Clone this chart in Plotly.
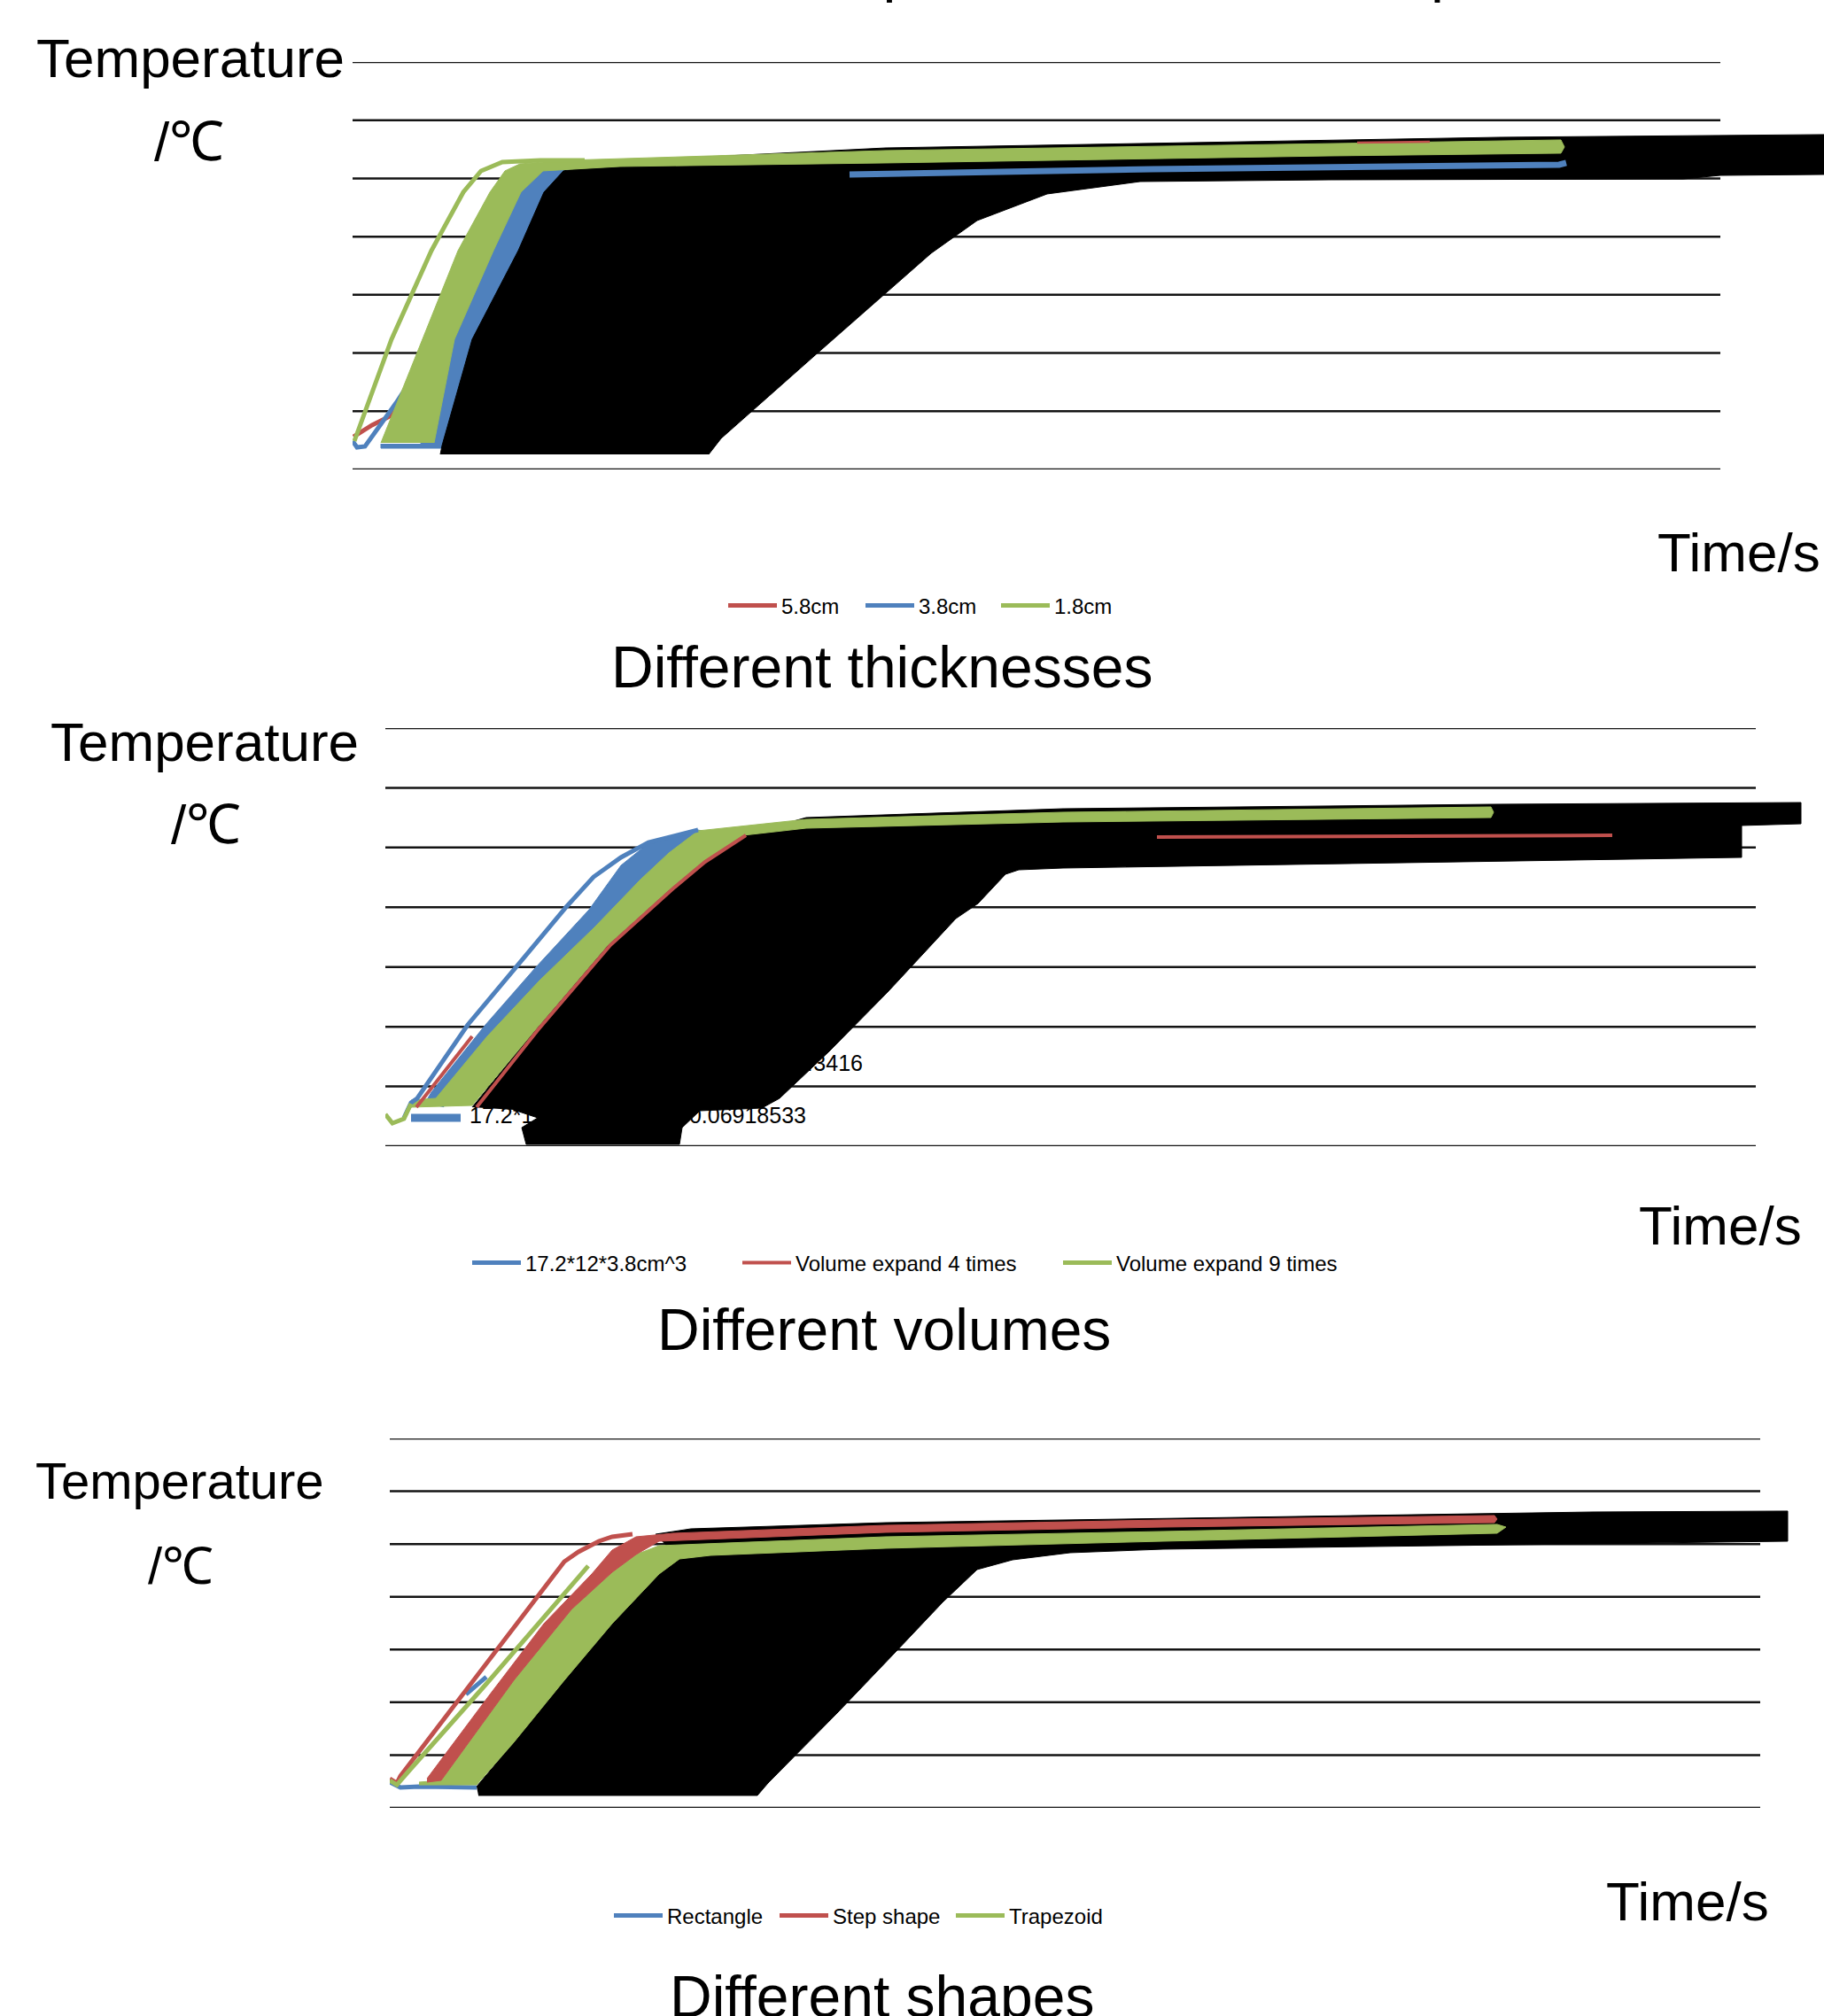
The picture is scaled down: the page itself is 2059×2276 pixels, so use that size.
import plotly.graph_objects as go

W, H = 2059, 2276
FONT = "Liberation Sans, Arial, sans-serif"
RED, BLUE, GREEN, BLACK = "#C0504D", "#4F81BD", "#9BBB59", "#000000"

grid_T = [0, 10, 20, 30, 40, 50, 60, 70]

# ---------------- Panel 1 : Different thicknesses ----------------
p1_names = ["5.8cm", "3.8cm", "1.8cm"]
p1_grid_end = 1544
p1_t_max = 1661
p1_green_line_t = [2, 44, 89, 125, 145, 169, 212, 262]
p1_green_line_T = [4.87, 22.37, 37.59, 47.63, 51.29, 52.81, 53.11, 53.11]
p1_green_band_t = [32, 79, 119, 155, 172, 189, 242, 602, 1102, 1364, 1368, 1364, 1102, 602, 302, 262, 215, 190, 159, 115, 92]
p1_green_band_T = [4.57, 22.37, 37.59, 47.63, 51.29, 52.50, 53.11, 54.79, 56.00, 56.61, 55.40, 54.33, 53.87, 52.66, 52.05, 51.74, 51.29, 47.63, 37.59, 22.37, 4.57]
p1_blue_line_t = [0, 5, 14, 49, 72]
p1_blue_line_T = [4.87, 3.80, 3.96, 11.41, 16.74]
p1_blue_band_t = [32, 32, 162, 282, 312, 242, 202, 162, 122, 92, 77]
p1_blue_band_T = [4.41, 3.65, 3.65, 45.66, 49.46, 52.05, 51.74, 44.13, 30.44, 16.74, 4.41]
p1_blue_plateau_t = [561, 902, 1362, 1370]
p1_blue_plateau_T = [50.68, 51.59, 52.35, 52.66]
p1_red_rise_t = [1, 22, 42, 60]
p1_red_rise_T = [5.63, 7.61, 9.13, 11.87]
p1_red_plateau_t = [1134, 1216]
p1_red_plateau_T = [56.16, 56.31]
p1_labels_t = [99, 101, 135, 187, 216, 238, 302, 602, 1296, 1661, 1661, 1544, 1502, 1102, 889, 784, 705, 653, 521, 416, 402]
p1_labels_T = [2.59, 4.11, 22.37, 37.59, 47.63, 51.29, 52.96, 55.24, 57.07, 57.53, 50.68, 50.52, 49.91, 49.76, 49.46, 47.33, 42.76, 37.13, 19.48, 5.33, 2.59]

# ---------------- Panel 2 : Different volumes ----------------
p2_names = ["17.2*12*3.8cm^3", "Volume expand 4 times", "Volume expand 9 times"]
p2_grid_end = 1547
p2_t_max = 1624
p2_blue_line_t = [21, 29, 36, 93, 149, 205, 235, 266, 297, 353]
p2_blue_line_T = [4.75, 7.27, 8.01, 20.32, 30.25, 40.19, 45.08, 48.35, 50.87, 52.94]
p2_green_line_t = [0, 8, 21, 29]
p2_green_line_T = [5.34, 3.86, 4.60, 7.12]
p2_blue_band_t = [45, 52, 113, 169, 230, 266, 297, 353, 385, 265, 125, 65]
p2_blue_band_T = [7.27, 9.05, 20.32, 29.81, 39.60, 47.01, 50.72, 52.94, 51.76, 36.19, 13.94, 6.53]
p2_green_band_t = [29, 57, 115, 174, 236, 288, 320, 353, 475, 765, 1248, 1251, 1248, 765, 475, 404, 358, 322, 251, 169, 98, 29]
p2_green_band_T = [7.71, 8.01, 18.39, 27.73, 36.63, 44.64, 49.09, 52.80, 54.72, 55.91, 56.80, 55.91, 55.02, 54.28, 53.24, 52.05, 47.61, 43.16, 33.66, 19.43, 6.82, 6.53]
p2_red_line_t = [35, 98, None, 103, 172, 254, 325, 361, 407, None, 871, 1385]
p2_red_line_T = [6.53, 18.39, None, 6.53, 19.43, 33.66, 43.16, 47.61, 52.05, None, 51.76, 52.05]
p2_key_t = [29, 85]
p2_key_T = [4.75, 4.75]
p2_labels_t = [98, 169, 251, 322, 358, 404, 475, 765, 1248, 1598, 1598, 1531, 1531, 765, 715, 700, 669, 644, 567, 501, 445, 425, 355, 335, 332, 159, 154, 172, 145]
p2_labels_T = [6.53, 19.43, 33.66, 43.16, 47.61, 52.05, 55.02, 56.50, 57.24, 57.54, 53.98, 53.69, 48.35, 46.57, 46.27, 45.53, 40.63, 38.11, 25.80, 15.87, 8.01, 6.38, 5.93, 3.11, 0.30, 0.30, 3.11, 4.75, 6.08]
p2_text = ["17.2*12*3.8cm^3", "0.06918533", "43416"]
p2_text_t = [95, 475, 539]
p2_text_T = [4.75, 4.75, 13.50]
p2_text_pos = ["middle right", "middle left", "middle left"]

# ---------------- Panel 3 : Different shapes ----------------
p3_names = ["Rectangle", "Step shape", "Trapezoid"]
p3_grid_end = 1547
p3_t_max = 1619
p3_red_line_t = [0, 8, 12, 197, 213, 236, 251, 274]
p3_red_line_T = [5.54, 4.70, 6.04, 46.67, 48.51, 50.53, 51.37, 51.87]
p3_green_line_t = [0, 8, 21, 109, 224]
p3_green_line_T = [5.20, 4.36, 6.88, 23.50, 45.83]
p3_blue_line_t = [0, 12, 33, 98, None, 86, 109]
p3_blue_line_T = [4.87, 3.86, 4.03, 3.86, None, 21.49, 24.84]
p3_red_band_t = [42, 113, 174, 228, 251, 278, 320, 560, 873, 1247, 1250, 1247, 873, 560, 304, 278, 251, 205, 140, 58, 42]
p3_red_band_T = [5.54, 21.49, 34.92, 44.32, 48.85, 51.37, 52.04, 53.55, 54.56, 55.40, 54.73, 54.05, 53.21, 52.21, 50.53, 48.01, 44.65, 37.60, 24.17, 5.20, 4.87]
p3_green_band_t = [33, 58, 140, 205, 251, 278, 304, 560, 873, 1250, 1260, 1250, 873, 560, 362, 327, 304, 251, 197, 140, 98, 33]
p3_green_band_T = [4.87, 5.20, 24.17, 37.60, 44.65, 48.01, 49.69, 51.37, 52.38, 53.72, 53.21, 52.04, 50.53, 49.19, 47.84, 47.17, 44.32, 34.92, 24.17, 12.42, 4.36, 4.36]
p3_labels_t = [98, 140, 197, 251, 304, 327, 300, 340, 560, 1228, 1359, 1578, 1578, 1267, 1005, 873, 768, 703, 663, 624, 571, 505, 427, 415, 100]
p3_labels_T = [4.03, 12.42, 24.17, 34.92, 44.32, 47.17, 51.87, 52.88, 54.05, 55.73, 56.07, 56.24, 50.53, 49.86, 49.35, 49.02, 48.35, 47.00, 45.16, 38.95, 29.55, 17.96, 4.70, 2.35, 2.35]

captions = ["Different positions of the heat plate", "Different thicknesses", "Different volumes", "Different shapes"]


def px(x):
    return x / W


def py(y):
    return 1 - y / H


fig = go.Figure()


def band(t, T, color, xa, ya):
    fig.add_trace(go.Scatter(x=t, y=T, mode="lines", fill="toself", fillcolor=color,
                             line=dict(color=color, width=1), hoverinfo="skip",
                             showlegend=False, xaxis=xa, yaxis=ya))


def line(t, T, color, width, xa, ya, name=None, legend=None, rank=None, lw=None):
    if name is not None:
        kw = dict(name=name, showlegend=True, legend=legend, legendrank=rank)
        if lw is not None:
            kw["legendwidth"] = lw
    else:
        kw = dict(showlegend=False)
    fig.add_trace(go.Scatter(x=t, y=T, mode="lines", line=dict(color=color, width=width),
                             connectgaps=False, hoverinfo="skip", xaxis=xa, yaxis=ya, **kw))


# Panel 1
band(p1_blue_band_t, p1_blue_band_T, BLUE, "x", "y")
line(p1_red_rise_t, p1_red_rise_T, RED, 5, "x", "y", p1_names[0], "legend", 1, 85)
line(p1_blue_line_t, p1_blue_line_T, BLUE, 5, "x", "y", p1_names[1], "legend", 2, 83)
band(p1_labels_t, p1_labels_T, BLACK, "x", "y")
band(p1_green_band_t, p1_green_band_T, GREEN, "x", "y")
line(p1_blue_plateau_t, p1_blue_plateau_T, BLUE, 7, "x", "y")
line(p1_red_plateau_t, p1_red_plateau_T, RED, 2.5, "x", "y")
line(p1_green_line_t, p1_green_line_T, GREEN, 5, "x", "y", p1_names[2], "legend", 3)

# Panel 2
band(p2_blue_band_t, p2_blue_band_T, BLUE, "x2", "y2")
band(p2_labels_t, p2_labels_T, BLACK, "x2", "y2")
band(p2_green_band_t, p2_green_band_T, GREEN, "x2", "y2")
line(p2_key_t, p2_key_T, BLUE, 9, "x2", "y2")
line(p2_blue_line_t, p2_blue_line_T, BLUE, 5, "x2", "y2", p2_names[0], "legend2", 1, 235)
line(p2_red_line_t, p2_red_line_T, RED, 4, "x2", "y2", p2_names[1], "legend2", 2, 292)
line(p2_green_line_t, p2_green_line_T, GREEN, 5, "x2", "y2", p2_names[2], "legend2", 3)
fig.add_trace(go.Scatter(x=p2_text_t, y=p2_text_T, mode="text", text=p2_text,
                         textposition=p2_text_pos, textfont=dict(family=FONT, size=25, color="black"),
                         hoverinfo="skip", showlegend=False, xaxis="x2", yaxis="y2"))

# Panel 3
band(p3_labels_t, p3_labels_T, BLACK, "x3", "y3")
line(p3_blue_line_t, p3_blue_line_T, BLUE, 5, "x3", "y3", p3_names[0], "legend3", 1, 117)
band(p3_green_band_t, p3_green_band_T, GREEN, "x3", "y3")
band(p3_red_band_t, p3_red_band_T, RED, "x3", "y3")
line(p3_red_line_t, p3_red_line_T, RED, 5, "x3", "y3", p3_names[1], "legend3", 2, 129)
line(p3_green_line_t, p3_green_line_T, GREEN, 5, "x3", "y3", p3_names[2], "legend3", 3)

# gridlines
shapes = []
for xr, yr, end in (("x", "y", p1_grid_end), ("x2", "y2", p2_grid_end), ("x3", "y3", p3_grid_end)):
    for g in grid_T:
        shapes.append(dict(type="line", xref=xr, yref=yr, x0=0, x1=end, y0=g, y1=g,
                           line=dict(color="#141414", width=2.5), layer="below"))

ax = dict(visible=False, showgrid=False, zeroline=False, fixedrange=True)
fig.update_layout(
    width=W, height=H, margin=dict(l=0, r=0, t=0, b=0),
    paper_bgcolor="white", plot_bgcolor="rgba(0,0,0,0)",
    font=dict(family=FONT, color="black"),
    xaxis=dict(ax, domain=[px(398), 1], range=[0, p1_t_max], anchor="y"),
    yaxis=dict(ax, domain=[py(530), py(70)], range=[0, 70], anchor="x"),
    xaxis2=dict(ax, domain=[px(435), 1], range=[0, p2_t_max], anchor="y2"),
    yaxis2=dict(ax, domain=[py(1294), py(822)], range=[0, 70], anchor="x2"),
    xaxis3=dict(ax, domain=[px(440), 1], range=[0, p3_t_max], anchor="y3"),
    yaxis3=dict(ax, domain=[py(2041), py(1624)], range=[0, 70], anchor="x3"),
    shapes=shapes,
    showlegend=True,
)

leg = dict(orientation="h", xanchor="left", yanchor="middle", bgcolor="rgba(0,0,0,0)",
           font=dict(family=FONT, size=24, color="black"), borderwidth=0, itemclick=False,
           itemwidth=55)
fig.update_layout(
    legend=dict(leg, x=px(817), y=py(684)),
    legend2=dict(leg, x=px(528), y=py(1426)),
    legend3=dict(leg, x=px(688), y=py(2163)),
)

ann = []


def add_text(text, x, y, size, xanchor="center"):
    ann.append(dict(text=text, x=px(x), y=py(y), xref="paper", yref="paper", showarrow=False,
                    xanchor=xanchor, yanchor="middle", font=dict(family=FONT, size=size, color="black")))


add_text(captions[0], 724, -35, 67, "left")
# panel 1
add_text("Temperature", 215, 65, 62)
add_text("/℃", 213, 159, 62)
add_text("Time/s", 1963, 623, 62)
add_text(captions[1], 995, 753, 66)
# panel 2
add_text("Temperature", 231, 838, 62)
add_text("/℃", 232, 930, 62)
add_text("Time/s", 1942, 1383, 62)
add_text(captions[2], 998, 1501, 66)
# panel 3
add_text("Temperature", 203, 1671, 58)
add_text("/℃", 204, 1767, 58)
add_text("Time/s", 1905, 2146, 62)
add_text(captions[3], 995, 2254, 66)
fig.update_layout(annotations=ann)

fig.write_html("out.html", config={"displayModeBar": False},
               post_script="document.body.style.margin='0px';document.body.style.overflow='hidden';")
